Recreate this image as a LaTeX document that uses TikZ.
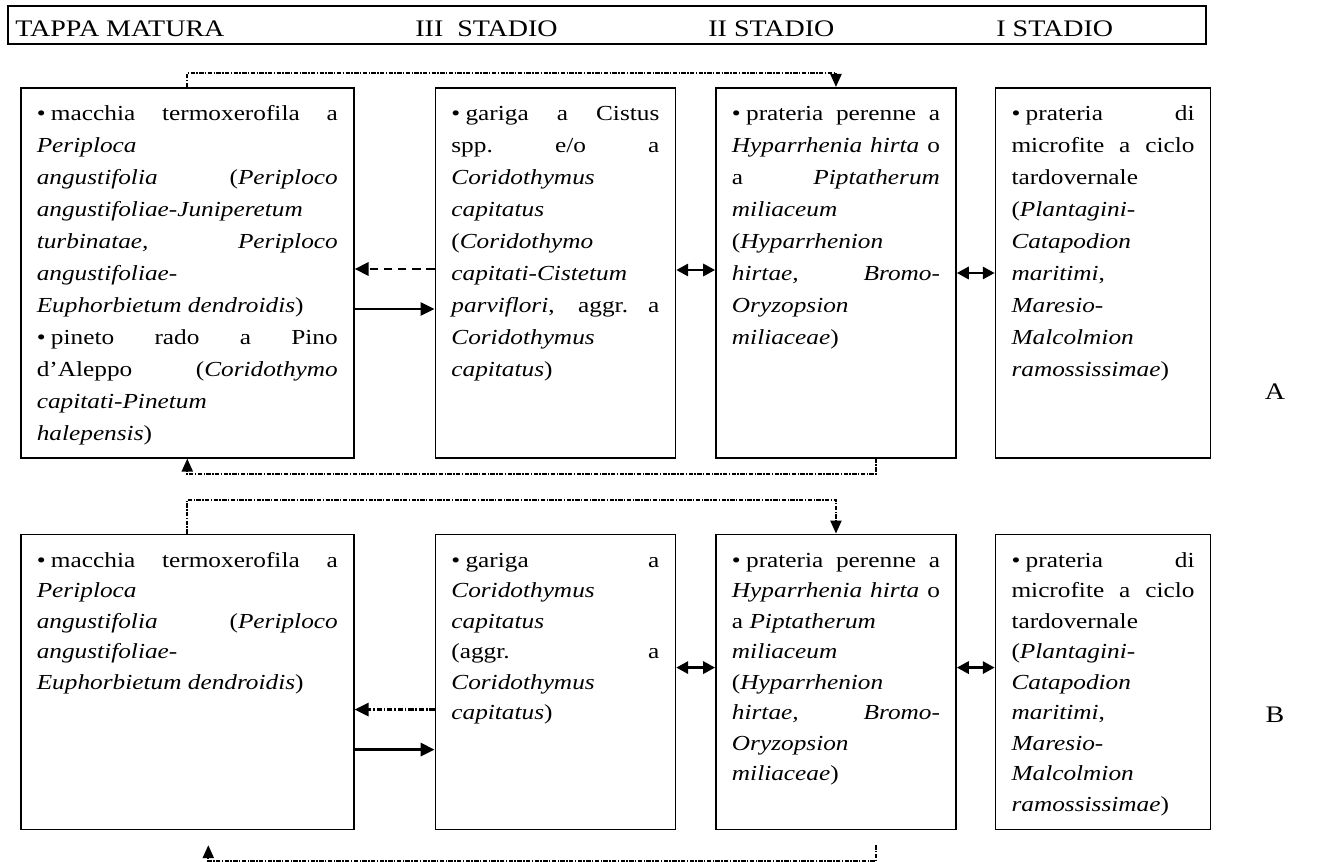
\documentclass[tikz,border=0pt]{standalone}
\usepackage{fontspec}
\setmainfont{Liberation Serif}[FakeStretch=1.18]
\usetikzlibrary{positioning, arrows.meta, calc}

\newcommand{\riga}[1]{\makebox[\linewidth][s]{#1}}
\newcommand{\punto}{\textbullet\kern0.25em}
\newcommand{\testoA}{\fontsize{12.2}{18.2}\selectfont}
\newcommand{\testoB}{\fontsize{12.2}{17.35}\selectfont}
\newcommand{\cellaA}[2]{\parbox[t][7.4cm][t]{#1}{\testoA\rule{0pt}{0.66cm}#2}}
\newcommand{\cellaB}[2]{\parbox[t][5.9cm][t]{#1}{\testoB\rule{0pt}{0.66cm}#2}}
\newcommand{\largUno}{6.02cm}
\newcommand{\largDue}{4.16cm}
\newcommand{\largQuattro}{3.66cm}

\begin{document}
\begin{tikzpicture}[
    node distance=1.5cm and 0.78cm,
    cella/.style={rectangle, draw, line width=0.9pt, inner xsep=0.32cm, inner ysep=0pt},
    titolo/.style={font=\fontsize{13.5}{16}\selectfont, inner sep=0pt},
    freccia/.style={-{Triangle[length=0.28cm, width=0.26cm]}, line width=1.7pt},
    doppia/.style={{Triangle[length=0.24cm, width=0.24cm]}-{Triangle[length=0.24cm, width=0.24cm]}, line width=1.7pt},
    collegamento/.style={-{Triangle[length=0.26cm, width=0.22cm]}, line width=1.2pt, dash pattern=on 2.5pt off 0.8pt on 0.8pt off 0.8pt},
]
\useasboundingbox (0,0) rectangle (26.5,-17.24);

% ============ intestazione ============
\node[draw, line width=0.9pt, minimum width=23.96cm, minimum height=0.76cm, inner sep=0pt, anchor=north west] (testata) at (0.14,-0.10) {};
\node[titolo, anchor=base west] (tappa) at (0.30,-0.74) {TAPPA MATURA};
\node[titolo, anchor=base west] (stadioIII) at (8.30,-0.74) {III\ \ STADIO};
\node[titolo, anchor=base west] (stadioII) at (14.16,-0.74) {II STADIO};
\node[titolo, anchor=base west] (stadioI) at (19.92,-0.74) {I STADIO};

% ============ serie A ============
\node[cella, anchor=north west] (macchiaA) at (0.40,-1.74) {\cellaA{\largUno}{%
\riga{\punto macchia termoxerofila a}\\
\textit{Periploca}\\
\riga{\textit{angustifolia} (\textit{Periploco}}\\
\textit{angustifoliae-Juniperetum}\\
\riga{\textit{turbinatae, Periploco}}\\
\textit{angustifoliae-}\\
\textit{Euphorbietum dendroidis})\\
\riga{\punto pineto rado a Pino}\\
\riga{d’Aleppo (\textit{Coridothymo}}\\
\textit{capitati-Pinetum}\\
\textit{halepensis})}};
\node[cella, right=1.6cm of macchiaA] (garigaA) {\cellaA{\largDue}{%
\riga{\punto gariga a Cistus}\\
\riga{spp.\ e/o a}\\
\textit{Coridothymus}\\
\textit{capitatus}\\
(\textit{Coridothymo}\\
\textit{capitati-Cistetum}\\
\riga{\textit{parviflori}, aggr.\ a}\\
\textit{Coridothymus}\\
\textit{capitatus})}};
\node[cella, right=of garigaA] (prateriaA) {\cellaA{\largDue}{%
\riga{\punto prateria perenne a}\\
\riga{\textit{Hyparrhenia hirta} o}\\
\riga{a \textit{Piptatherum}}\\
\textit{miliaceum}\\
(\textit{Hyparrhenion}\\
\riga{\textit{hirtae, Bromo-}}\\
\textit{Oryzopsion}\\
\textit{miliaceae})}};
\node[cella, right=0.76cm of prateriaA] (microfiteA) {\cellaA{\largQuattro}{%
\riga{\punto prateria di}\\
\riga{microfite a ciclo}\\
tardovernale\\
(\textit{Plantagini-}\\
\textit{Catapodion}\\
\textit{maritimi},\\
\textit{Maresio-}\\
\textit{Malcolmion}\\
\textit{ramossissimae})}};
\node[titolo] (etichettaA) at (25.5,-7.84) {A};

% ============ serie B ============
\node[cella, below=of macchiaA] (macchiaB) {\cellaB{\largUno}{%
\riga{\punto macchia termoxerofila a}\\
\textit{Periploca}\\
\riga{\textit{angustifolia} (\textit{Periploco}}\\
\textit{angustifoliae-}\\
\textit{Euphorbietum dendroidis})}};
\node[cella, right=1.6cm of macchiaB] (garigaB) {\cellaB{\largDue}{%
\riga{\punto gariga a}\\
\textit{Coridothymus}\\
\textit{capitatus}\\
\riga{(aggr.\ a}\\
\textit{Coridothymus}\\
\textit{capitatus})}};
\node[cella, right=of garigaB] (prateriaB) {\cellaB{\largDue}{%
\riga{\punto prateria perenne a}\\
\riga{\textit{Hyparrhenia hirta} o}\\
a \textit{Piptatherum}\\
\textit{miliaceum}\\
(\textit{Hyparrhenion}\\
\riga{\textit{hirtae, Bromo-}}\\
\textit{Oryzopsion}\\
\textit{miliaceae})}};
\node[cella, right=0.76cm of prateriaB] (microfiteB) {\cellaB{\largQuattro}{%
\riga{\punto prateria di}\\
\riga{microfite a ciclo}\\
tardovernale\\
(\textit{Plantagini-}\\
\textit{Catapodion}\\
\textit{maritimi},\\
\textit{Maresio-}\\
\textit{Malcolmion}\\
\textit{ramossissimae})}};
\node[titolo] (etichettaB) at (25.5,-14.3) {B};

% ============ frecce serie A ============
\draw[freccia, dash pattern=on 5pt off 3pt] ([yshift=-3.64cm]garigaA.north west) -- ([yshift=-3.64cm]macchiaA.north east);
\draw[freccia] ([yshift=-4.44cm]macchiaA.north east) -- ([yshift=-4.44cm]garigaA.north west);
\draw[doppia] ([yshift=-3.66cm]garigaA.north east) -- ([yshift=-3.66cm]prateriaA.north west);
\draw[doppia] ([yshift=-3.72cm]prateriaA.north east) -- ([yshift=-3.72cm]microfiteA.north west);

% ============ frecce serie B ============
\draw[freccia, dash pattern=on 3pt off 1pt on 1pt off 1pt] ([yshift=-3.52cm]garigaB.north west) -- ([yshift=-3.52cm]macchiaB.north east);
\draw[freccia] ([yshift=-4.32cm]macchiaB.north east) -- ([yshift=-4.32cm]garigaB.north west);
\draw[doppia] ([yshift=-2.68cm]garigaB.north east) -- ([yshift=-2.68cm]prateriaB.north west);
\draw[doppia] ([yshift=-2.68cm]prateriaB.north east) -- ([yshift=-2.68cm]microfiteB.north west);

% ============ collegamenti ============
\draw[collegamento] (macchiaA.north) -- ++(0,0.28) -| (prateriaA.north);
\draw[collegamento] ([xshift=0.8cm]prateriaA.south) -- ++(0,-0.30) -| (macchiaA.south);
\draw[collegamento] (macchiaB.north) -- ++(0,0.68) -| (prateriaB.north);
\coordinate (partenzaB) at ([shift={(0.8,-0.30)}]prateriaB.south);
\coordinate (arrivoB) at ([shift={(0.42,-0.30)}]macchiaB.south);
\draw[collegamento] (partenzaB) -- ++(0,-0.32) -| (arrivoB);

\end{tikzpicture}
\end{document}
